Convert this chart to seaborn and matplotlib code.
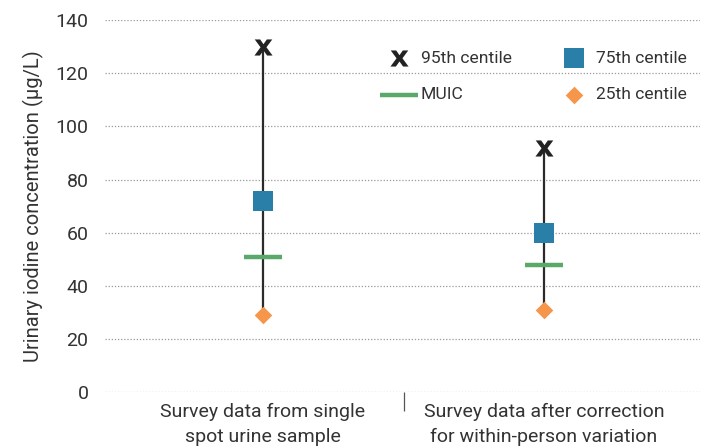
import matplotlib.pyplot as plt
import numpy as np
import pandas as pd
import seaborn as sns

CATEGORIES = ['Survey data from single\nspot urine sample',
              'Survey data after correction\nfor within-person variation']
P95 = [130, 92]
P75 = [72, 60]
MUIC = [51, 48]
P25 = [29, 31]
Y_TICKS = [0, 20, 40, 60, 80, 100, 120, 140]

TEXT = '#333333'


def main():
    sns.set_theme(style='white')
    plt.rcParams['font.family'] = ['Roboto', 'DejaVu Sans']

    fig = plt.figure(figsize=(7.05, 4.48), dpi=100)
    ax = fig.add_axes([0.149, 0.125, 0.844, 0.83])

    x = np.arange(len(CATEGORIES))
    ax.vlines(x, P25, P95, color='#2b2b2b', lw=1.6, zorder=2)

    df = pd.DataFrame({'x': x, 'p95': P95, 'p75': P75, 'muic': MUIC, 'p25': P25})
    sns.scatterplot(data=df, x='x', y='p95', marker=r'$\mathbf{x}$', s=170,
                    color='#222222', linewidth=0, ax=ax, zorder=4, label='95th centile')
    sns.scatterplot(data=df, x='x', y='muic', marker='_', s=720,
                    color='#5aa96a', linewidth=3.2, ax=ax, zorder=3, label='MUIC')
    sns.scatterplot(data=df, x='x', y='p75', marker='s', s=190,
                    color='#2a7fa8', linewidth=0, ax=ax, zorder=4, label='75th centile')
    sns.scatterplot(data=df, x='x', y='p25', marker='D', s=80,
                    color='#f5964a', linewidth=0, ax=ax, zorder=4, label='25th centile')

    ax.set_xlim(-0.562, 1.555)
    ax.set_ylim(0, 140)
    ax.set_yticks(Y_TICKS)
    ax.set_xticks(x)
    ax.set_xticklabels(CATEGORIES, fontsize=14, color=TEXT, linespacing=1.45)
    ax.set_xticks([0.5], minor=True)
    ax.tick_params(axis='x', which='major', length=0, pad=8)
    ax.tick_params(axis='x', which='minor', length=14, width=0.9, color='#555555',
                   direction='out', bottom=True)
    ax.tick_params(axis='y', length=0, pad=12, labelsize=14, labelcolor=TEXT)
    ax.grid(axis='y', linestyle=(0, (1, 1.5)), color='#999999', lw=0.9)
    ax.set_axisbelow(True)
    for spine in ax.spines.values():
        spine.set_visible(False)

    ax.set_xlabel('')
    ax.set_ylabel('Urinary iodine concentration (µg/L)', fontsize=14.5, color=TEXT, labelpad=8)

    handles, labels = ax.get_legend_handles_labels()
    ax.legend(handles, labels, ncol=2, frameon=False, fontsize=12.6,
              loc='upper left', bbox_to_anchor=(0.445, 0.96),
              labelcolor=TEXT, handletextpad=0.5, columnspacing=2.8,
              labelspacing=1.2, handlelength=1.5)

    plt.savefig('out.png', dpi=100)
    plt.close()


if __name__ == '__main__':
    main()
